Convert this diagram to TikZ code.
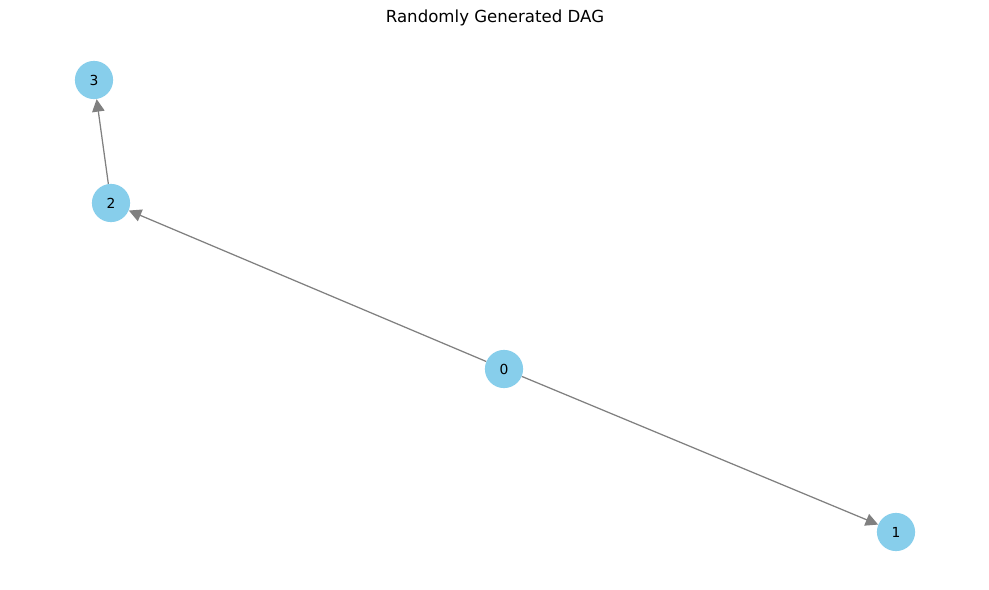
\documentclass[tikz,border=0pt]{standalone}
\usepackage{fontspec}
\setmainfont{DejaVu Sans}
\usepackage{xcolor}
\usetikzlibrary{arrows.meta}
\definecolor{skyblue}{RGB}{135,206,235}
\definecolor{edgegray}{RGB}{128,128,128}

\begin{document}
\begin{tikzpicture}[x=0.254mm,y=-0.254mm,
    vertex/.style={circle,fill=skyblue,draw=none,minimum size=9.7mm,inner sep=0pt,font=\fontsize{10}{12}\selectfont},
    edge/.style={draw=edgegray,line width=0.9pt,-{Triangle[length=9pt,width=9pt]}}]
        % \draw[help lines] grid(10,10);
        \useasboundingbox[fill=white] (0,0) rectangle (989,590);

        \node[font=\fontsize{12}{14}\selectfont] (title) at (495,18) {Randomly Generated DAG};

        \node[vertex] (n0) at (504,369) {0};
        \node[vertex] (n1) at (896,532) {1};
        \node[vertex] (n2) at (111,203) {2};
        \node[vertex] (n3) at (94,80) {3};

        \draw[edge] (n0) -- (n2);
        \draw[edge] (n0) -- (n1);
        \draw[edge] (n2) -- (n3);
    \end{tikzpicture}
\end{document}
